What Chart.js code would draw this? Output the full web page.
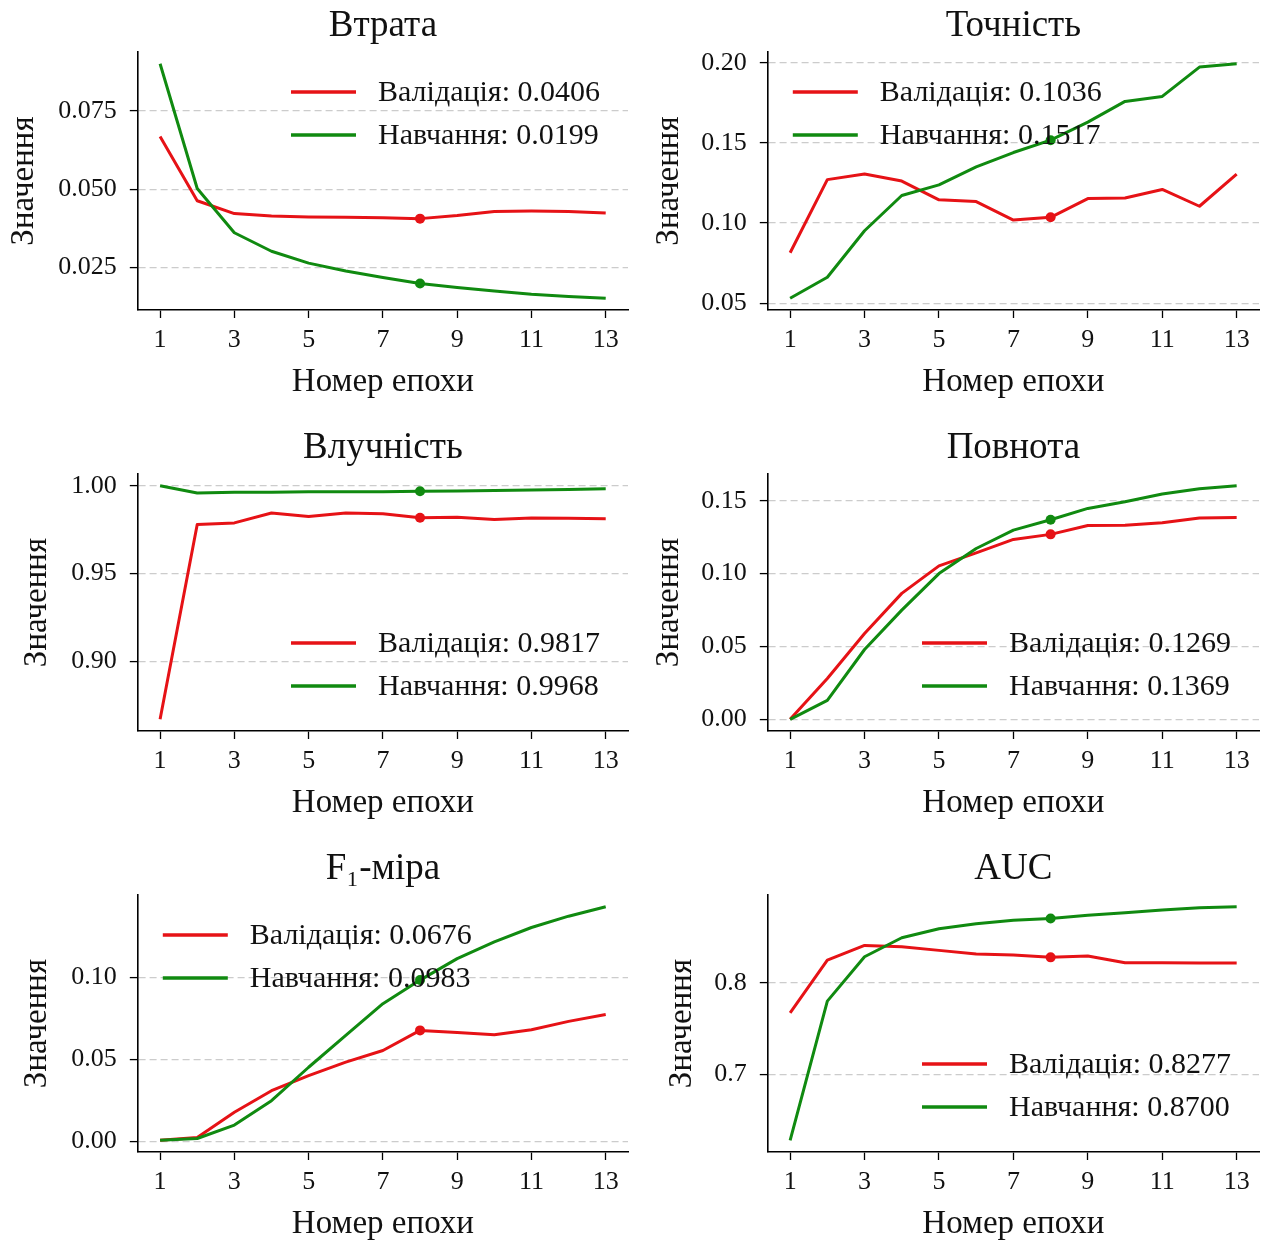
<!DOCTYPE html>
<html>
<head>
<meta charset="utf-8">
<script src="https://cdn.jsdelivr.net/npm/chart.js@4.4.1/dist/chart.umd.min.js"></script>
<style>
html, body { margin: 0; padding: 0; background: #fff; }
#wrap { position: relative; width: 1268px; height: 1241px; overflow: hidden; }
canvas { position: absolute; }
</style>
</head>
<body>
<div id="wrap"></div>
<script>
// epochs and tick labels
const epochs = [1, 2, 3, 4, 5, 6, 7, 8, 9, 10, 11, 12, 13];
const xTickLabels = ['1', '3', '5', '7', '9', '11', '13'];
const bestEpoch = 8;
const seriesNames = ['Валідація', 'Навчання'];

// Втрата
const lossVal   = [0.0668, 0.0463, 0.0422, 0.0414, 0.0411, 0.0410, 0.0409, 0.0406, 0.0416, 0.0429, 0.0430, 0.0429, 0.0424];
const lossTrain = [0.0900, 0.0502, 0.0361, 0.0302, 0.0264, 0.0239, 0.0218, 0.0199, 0.0186, 0.0175, 0.0165, 0.0158, 0.0152];
const lossTicks = ['0.025', '0.050', '0.075'];

// Точність
const precVal   = [0.0815, 0.1271, 0.1306, 0.1262, 0.1145, 0.1134, 0.1019, 0.1036, 0.1153, 0.1157, 0.1210, 0.1105, 0.1306];
const precTrain = [0.0531, 0.0662, 0.0952, 0.1172, 0.1238, 0.1350, 0.1440, 0.1517, 0.1630, 0.1759, 0.1790, 0.1973, 0.1994];
const precTicks = ['0.05', '0.10', '0.15', '0.20'];

// Влучність
const accVal   = [0.8669, 0.9779, 0.9788, 0.9844, 0.9825, 0.9845, 0.9840, 0.9817, 0.9820, 0.9807, 0.9816, 0.9814, 0.9812];
const accTrain = [1.0000, 0.9958, 0.9963, 0.9962, 0.9965, 0.9966, 0.9965, 0.9968, 0.9969, 0.9973, 0.9975, 0.9978, 0.9982];
const accTicks = ['0.90', '0.95', '1.00'];

// Повнота
const recVal   = [0.0000, 0.0280, 0.0589, 0.0864, 0.1053, 0.1142, 0.1234, 0.1269, 0.1330, 0.1332, 0.1348, 0.1381, 0.1384];
const recTrain = [0.0000, 0.0130, 0.0479, 0.0749, 0.1000, 0.1172, 0.1298, 0.1369, 0.1447, 0.1493, 0.1546, 0.1582, 0.1603];
const recTicks = ['0.00', '0.05', '0.10', '0.15'];

// F1-міра
const f1Val   = [0.0005, 0.0022, 0.0176, 0.0308, 0.0400, 0.0482, 0.0553, 0.0676, 0.0663, 0.0649, 0.0680, 0.0731, 0.0773];
const f1Train = [0.0005, 0.0016, 0.0098, 0.0247, 0.0451, 0.0645, 0.0839, 0.0983, 0.1114, 0.1216, 0.1304, 0.1373, 0.1431];
const f1Ticks = ['0.00', '0.05', '0.10'];

// AUC
const aucVal   = [0.7673, 0.8247, 0.8407, 0.8393, 0.8353, 0.8313, 0.8302, 0.8277, 0.8291, 0.8218, 0.8218, 0.8215, 0.8215];
const aucTrain = [0.6284, 0.7800, 0.8284, 0.8491, 0.8589, 0.8644, 0.8680, 0.8700, 0.8735, 0.8764, 0.8793, 0.8818, 0.8829];
const aucTicks = ['0.7', '0.8'];

const serif = "'Liberation Serif', 'Times New Roman', serif";
const red = 'rgb(230, 18, 22)';
const green = 'rgb(16, 138, 16)';

const tickSize = 26, legendSize = 30, axisSize = 33, titleSize = 37;

const panels = [
	{ title: 'Втрата',    val: lossVal, train: lossTrain, ticks: lossTicks, corner: 'ur', col: 0, row: 0, yTitleX: 25 },
	{ title: 'Точність',  val: precVal, train: precTrain, ticks: precTicks, corner: 'ul', col: 1, row: 0, yTitleX: 670 },
	{ title: 'Влучність', val: accVal,  train: accTrain,  ticks: accTicks,  corner: 'lr', col: 0, row: 1, yTitleX: 38 },
	{ title: 'Повнота',   val: recVal,  train: recTrain,  ticks: recTicks,  corner: 'lr', col: 1, row: 1, yTitleX: 670 },
	{ title: 'F₁-міра',   val: f1Val,   train: f1Train,   ticks: f1Ticks,   corner: 'ul', col: 0, row: 2, yTitleX: 38 },
	{ title: 'AUC',       val: aucVal,  train: aucTrain,  ticks: aucTicks,  corner: 'lr', col: 1, row: 2, yTitleX: 683 }
];

// plot area edges in page pixels
const colLeft = [138, 768], colRight = [628, 1259];
const rowTop = [52, 474, 895], rowBottom = [310, 731, 1152];
const titleBox = 52, xBox = 92, padRight = 9;

// legend drawn inside the plot area, like matplotlib's loc
const insideLegend = {
	id: 'insideLegend',
	afterDatasetsDraw(chart, args, opts) {
		const ctx = chart.ctx;
		const a = chart.chartArea;
		const best = epochs.indexOf(bestEpoch);
		const sets = chart.data.datasets;
		const texts = sets.map(d => d.label + ': ' + d.data[best].y.toFixed(4));
		ctx.save();
		ctx.font = legendSize + 'px ' + serif;
		const tw = Math.max(...texts.map(t => ctx.measureText(t).width));
		const lineLen = 65, gap = 22, rowH = 43;
		const x0 = opts.corner[1] === 'l' ? a.left + 25 : a.right - 28 - tw - gap - lineLen;
		const y0 = opts.corner[0] === 'u' ? a.top + 40 : a.bottom - 45 - rowH;
		sets.forEach((d, i) => {
			const y = y0 + i * rowH;
			ctx.strokeStyle = d.borderColor;
			ctx.lineWidth = 3.5;
			ctx.beginPath();
			ctx.moveTo(x0, y);
			ctx.lineTo(x0 + lineLen, y);
			ctx.stroke();
			ctx.fillStyle = '#111';
			ctx.textAlign = 'left';
			ctx.textBaseline = 'middle';
			ctx.fillText(texts[i], x0 + lineLen + gap, y + 1);
		});
		ctx.restore();
	}
};

function makeChart(p) {
	const wrap = document.getElementById('wrap');
	const axisLH = axisSize * 1.2;
	const cx = p.yTitleX - axisLH / 2;
	const cy = rowTop[p.row] - titleBox;
	const w = colRight[p.col] + padRight - cx;
	const h = titleBox + (rowBottom[p.row] - rowTop[p.row]) + xBox;
	const yWidth = colLeft[p.col] - cx;

	const canvas = document.createElement('canvas');
	canvas.width = Math.round(w);
	canvas.height = Math.round(h);
	canvas.style.left = cx + 'px';
	canvas.style.top = cy + 'px';
	wrap.appendChild(canvas);

	const all = p.val.concat(p.train);
	const lo = Math.min(...all), hi = Math.max(...all);
	const ym = (hi - lo) * 0.05;
	const xm = (epochs[epochs.length - 1] - epochs[0]) * 0.05;

	const best = epochs.indexOf(bestEpoch);
	const radius = ctx => ctx.dataIndex === best ? 5 : 0;

	const titleLH = titleSize * 1.2;
	const titleTop = titleBox - 26 - titleLH / 2;

	new Chart(canvas, {
		type: 'line',
		data: {
			datasets: [
				{
					label: seriesNames[0],
					data: epochs.map((e, i) => ({ x: e, y: p.val[i] })),
					borderColor: red, backgroundColor: red,
					pointBackgroundColor: red, pointBorderWidth: 0,
					borderWidth: 3, pointRadius: radius, pointHoverRadius: radius,
					borderJoinStyle: 'round', tension: 0, order: 1
				},
				{
					label: seriesNames[1],
					data: epochs.map((e, i) => ({ x: e, y: p.train[i] })),
					borderColor: green, backgroundColor: green,
					pointBackgroundColor: green, pointBorderWidth: 0,
					borderWidth: 3, pointRadius: radius, pointHoverRadius: radius,
					borderJoinStyle: 'round', tension: 0, order: 0
				}
			]
		},
		options: {
			responsive: false,
			animation: false,
			devicePixelRatio: 1,
			events: [],
			layout: { padding: { left: 0, right: padRight, top: 0, bottom: 0 } },
			plugins: {
				legend: { display: false },
				tooltip: { enabled: false },
				title: {
					display: true,
					text: p.title,
					fullSize: false,
					color: '#111',
					font: { family: serif, size: titleSize, weight: 'normal', lineHeight: 1.2 },
					padding: { top: titleTop, bottom: titleBox - titleTop - titleLH }
				},
				insideLegend: { corner: p.corner }
			},
			scales: {
				x: {
					type: 'linear',
					min: epochs[0] - xm,
					max: epochs[epochs.length - 1] + xm,
					afterBuildTicks: s => { s.ticks = xTickLabels.map(t => ({ value: Number(t) })); },
					afterFit: s => { s.height = xBox; },
					ticks: {
						autoSkip: false, maxRotation: 0, padding: 7,
						color: '#111',
						font: { family: serif, size: tickSize },
						callback: (v, i) => xTickLabels[i]
					},
					grid: { drawOnChartArea: false, drawTicks: true, tickLength: 8, tickColor: '#000', tickWidth: 1.3 },
					border: { display: true, color: '#000', width: 1.6 },
					title: {
						display: true, text: 'Номер епохи', color: '#111',
						font: { family: serif, size: axisSize, lineHeight: 1.2 },
						padding: { top: 0, bottom: 0 }
					}
				},
				y: {
					type: 'linear',
					min: lo - ym,
					max: hi + ym,
					afterBuildTicks: s => { s.ticks = p.ticks.map(t => ({ value: parseFloat(t) })); },
					afterFit: s => { s.width = yWidth; },
					ticks: {
						padding: 13,
						color: '#111',
						font: { family: serif, size: tickSize },
						callback: (v, i) => p.ticks[i]
					},
					grid: {
						color: '#cccccc', lineWidth: 1.2,
						drawTicks: true, tickLength: 8, tickColor: '#000', tickWidth: 1.3, tickBorderDash: []
					},
					border: { display: true, color: '#000', width: 1.6, dash: [7, 4] },
					title: {
						display: true, text: 'Значення', color: '#111',
						font: { family: serif, size: axisSize, lineHeight: 1.2 },
						padding: { top: 0, bottom: 0 }
					}
				}
			}
		},
		plugins: [insideLegend]
	});
}

panels.forEach(makeChart);
</script>
</body>
</html>
